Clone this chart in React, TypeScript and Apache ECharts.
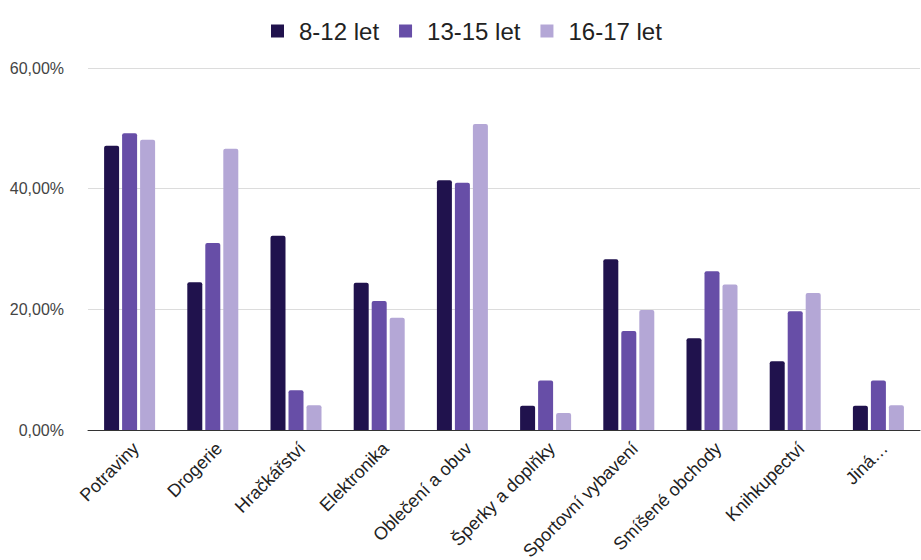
import React, { useEffect, useRef } from "react";
import * as echarts from "echarts";

const categories = [
  "Potraviny",
  "Drogerie",
  "Hračkářství",
  "Elektronika",
  "Oblečení a obuv",
  "Šperky a doplňky",
  "Sportovní vybavení",
  "Smíšené obchody",
  "Knihkupectví",
  "Jiná…",
];
const seriesNames = ["8-12 let", "13-15 let", "16-17 let"];
const age8to12 = [47.1, 24.5, 32.2, 24.4, 41.4, 4.0, 28.3, 15.2, 11.4, 4.0];
const age13to15 = [49.2, 31.0, 6.6, 21.4, 41.0, 8.2, 16.4, 26.3, 19.7, 8.2];
const age16to17 = [48.1, 46.6, 4.1, 18.6, 50.7, 2.8, 19.9, 24.1, 22.7, 4.1];
const colors = ["#20124d", "#674ea7", "#b4a7d6"];
const yTicks = [0, 20, 40, 60];

export default function App() {
  const ref = useRef<HTMLDivElement>(null);
  useEffect(() => {
    if (!ref.current) return;
    const chart = echarts.init(ref.current, null, { renderer: "svg" });
    const data = [age8to12, age13to15, age16to17];
    chart.setOption({
      animation: false,
      color: colors,
      textStyle: { fontFamily: "Liberation Sans, Arial, sans-serif" },
      legend: {
        top: 14,
        left: 266,
        itemWidth: 13,
        itemHeight: 13,
        itemGap: 20,
        icon: "rect",
        textStyle: { fontSize: 24, color: "#222", padding: [0, 0, 0, 10] },
        data: seriesNames,
      },
      grid: {
        left: 88,
        right: 1,
        top: 68,
        bottom: 130,
        containLabel: false,
        outerBoundsMode: "none",
      },
      xAxis: {
        type: "category",
        data: categories,
        axisTick: { show: false },
        axisLine: { lineStyle: { color: "#333", width: 1 } },
        axisLabel: {
          rotate: 45,
          fontSize: 18,
          color: "#222",
          interval: 0,
          margin: 9,
          verticalAlign: "top",
        },
      },
      yAxis: {
        type: "value",
        min: yTicks[0],
        max: yTicks[yTicks.length - 1],
        interval: 20,
        axisLine: { show: false },
        axisTick: { show: false },
        splitLine: { lineStyle: { color: "#dcdcdc", width: 1 } },
        axisLabel: {
          fontSize: 16,
          color: "#444",
          margin: 24,
          formatter: (v: number) => v.toFixed(2).replace(".", ",") + "%",
        },
      },
      series: seriesNames.map((name, i) => ({
        name,
        type: "bar",
        data: data[i],
        barWidth: 15,
        barGap: "20%",
        itemStyle: { color: colors[i], borderRadius: [2, 2, 0, 0] },
      })),
    });
    return () => chart.dispose();
  }, []);
  return (
    <div
      ref={ref}
      style={{ position: "absolute", left: 0, top: 0, width: 921, height: 560 }}
    />
  );
}
